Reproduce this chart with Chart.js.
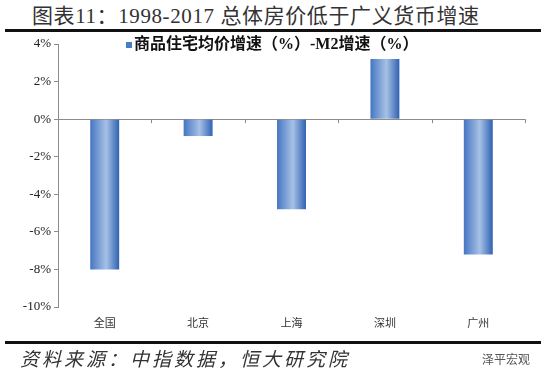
<!DOCTYPE html>
<html>
<head>
<meta charset="utf-8">
<script src="https://cdn.jsdelivr.net/npm/chart.js@4.4.1/dist/chart.umd.min.js"></script>
<style>
  body { margin: 0; background: #fff; }
  #wrap { position: relative; width: 550px; height: 377px; overflow: hidden; background: #fff; }
  #title { position: absolute; left: 32px; top: -1px; white-space: nowrap; letter-spacing: 0.6px;
           font: 21px "Liberation Serif", "Noto Sans CJK SC", serif; color: #333; }
  .rule { position: absolute; left: 5px; width: 536px; height: 3px; background: #111; }
  #source { position: absolute; left: 20px; top: 344px; font: italic 19px "Noto Sans CJK SC", sans-serif;
            letter-spacing: 3px; color: #333; white-space: nowrap; }
  #mark { position: absolute; left: 482px; top: 350px; font: 12px "Noto Sans CJK SC", sans-serif; color: #555; }
  canvas { position: absolute; left: 0; top: 0; }
</style>
</head>
<body>
<div id="wrap">
  <div id="title">图表11：1998-2017 总体房价低于广义货币增速</div>
  <div class="rule" style="top:29px"></div>
  <canvas id="gapChart" width="550" height="377"></canvas>
  <div class="rule" style="top:341px"></div>
  <div id="source">资料来源：中指数据，恒大研究院</div>
  <div id="mark">泽平宏观</div>
</div>
<script>
const cities = ['全国', '北京', '上海', '深圳', '广州'];
const gapValues = [-8.0, -0.9, -4.8, 3.2, -7.2];
const seriesLabel = '商品住宅均价增速（%）-M2增速（%）';
const yMin = -10, yMax = 4, yStep = 2;

const barShare = 0.31;
const axisGrey = '#8c8c8c';

// horizontal gradient across each bar, like the original Excel fill
function barFill(ctx) {
    const chart = ctx.chart;
    const x = chart.scales.x;
    if (!x || !chart.chartArea) return '#4a7cc6';
    const cx = x.getPixelForValue(ctx.dataIndex);
    const w = (x.width / cities.length) * barShare;
    const g = chart.ctx.createLinearGradient(cx - w / 2, 0, cx + w / 2, 0);
    g.addColorStop(0, '#4576c2');
    g.addColorStop(0.55, '#a7c1e6');
    g.addColorStop(1, '#2f62b2');
    return g;
}

const extras = {
    id: 'extras',
    afterDraw(chart) {
        const c = chart.ctx;
        const x = chart.scales.x, y = chart.scales.y;
        const y0 = y.getPixelForValue(0);
        // small tick marks on the zero line between categories
        c.save();
        c.strokeStyle = axisGrey;
        c.lineWidth = 1;
        const step = x.width / cities.length;
        for (let i = 1; i <= cities.length; i++) {
            const px = Math.round(x.left + i * step) + 0.5;
            c.beginPath();
            c.moveTo(px, y0);
            c.lineTo(px, y0 + 4);
            c.stroke();
        }
        // legend
        c.fillStyle = '#4a7cc6';
        c.fillRect(126, 42, 6, 6);
        c.fillStyle = '#111';
        c.font = 'bold 16px "Liberation Serif", "Noto Sans CJK SC", serif';
        c.textBaseline = 'middle';
        c.fillText(seriesLabel, 134, 45);
        c.restore();
    }
};

new Chart(document.getElementById('gapChart'), {
    type: 'bar',
    data: {
        labels: cities,
        datasets: [{
            label: seriesLabel,
            data: gapValues,
            backgroundColor: barFill,
            borderWidth: 0,
            barPercentage: barShare,
            categoryPercentage: 1
        }]
    },
    options: {
        responsive: false,
        animation: false,
        layout: { padding: { left: 0, right: 25, top: 44, bottom: 40 } },
        plugins: { legend: { display: false }, tooltip: { enabled: false } },
        scales: {
            x: {
                grid: { display: false, drawTicks: false },
                border: { display: false },
                ticks: {
                    padding: 9,
                    color: '#333',
                    font: { family: '"Noto Sans CJK SC", sans-serif', size: 11 }
                },
                afterFit: s => { s.height = 30; }
            },
            y: {
                min: yMin,
                max: yMax,
                ticks: {
                    stepSize: yStep,
                    padding: 3,
                    color: '#222',
                    font: { family: '"Liberation Serif", serif', size: 13 },
                    callback: v => v + '%'
                },
                grid: {
                    color: c => c.tick && c.tick.value === 0 ? axisGrey : 'rgba(0,0,0,0)',
                    tickColor: axisGrey,
                    tickLength: 4
                },
                border: { color: axisGrey, width: 1 },
                afterFit: s => { s.width = 58; }
            }
        }
    },
    plugins: [extras]
});
</script>
</body>
</html>
